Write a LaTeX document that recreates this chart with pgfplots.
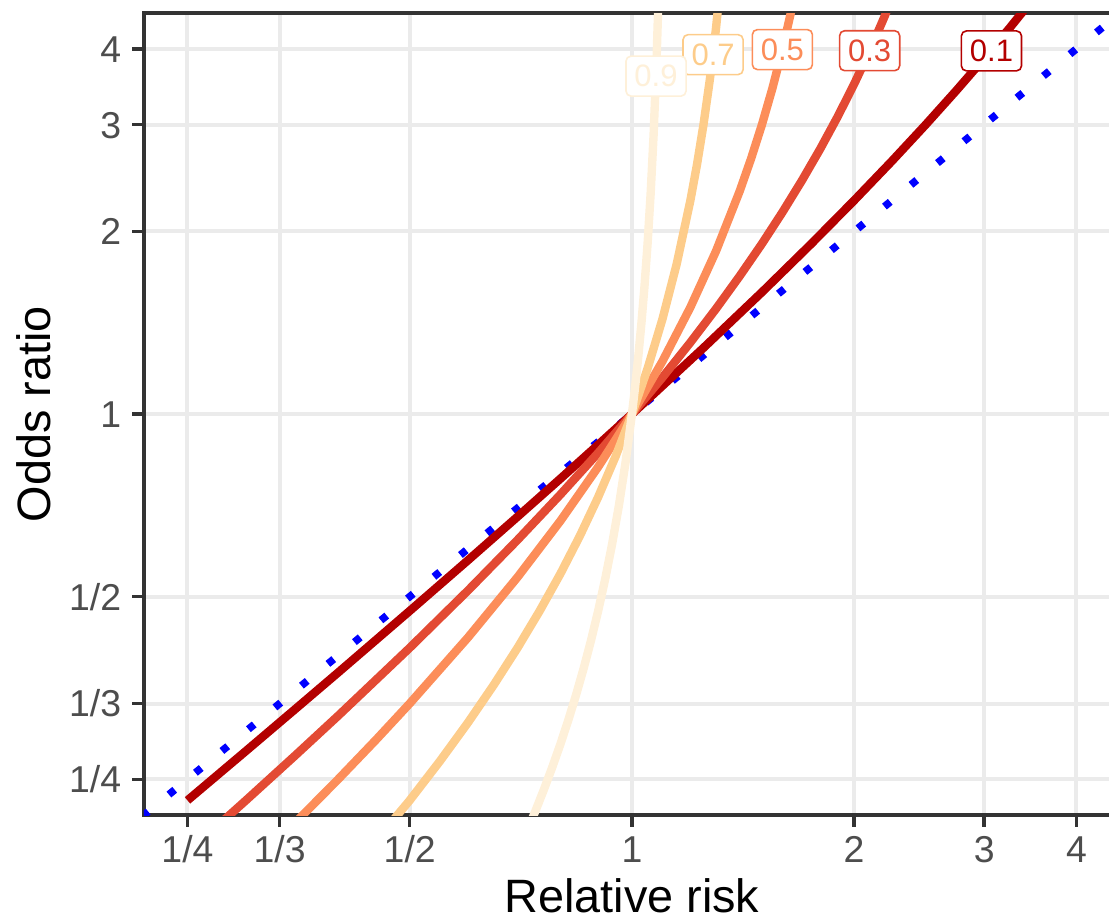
\documentclass[border=0pt]{standalone}
\usepackage{fontspec}
\setmainfont{Liberation Sans}
\usepackage{pgfplots}
\pgfplotsset{compat=1.18}
\definecolor{or1}{HTML}{B30000}
\definecolor{or3}{HTML}{E34A33}
\definecolor{or5}{HTML}{FC8D59}
\definecolor{or7}{HTML}{FDCC8A}
\definecolor{or9}{HTML}{FEF0D9}
\definecolor{gridgray}{HTML}{EBEBEB}
\definecolor{framegray}{HTML}{333333}
\definecolor{ticktext}{HTML}{4D4D4D}

\tikzset{lab/.style={draw=#1, fill=white, text=#1, rounded corners=2.5pt,
  line width=0.8pt, inner xsep=4.25pt, inner ysep=4.5pt,
  font=\fontsize{15.5}{17}\selectfont}}

\begin{document}
\begin{tikzpicture}
\begin{axis}[
  scale only axis, width=487.9pt, height=400.9pt,
  xmode=log, ymode=log, log basis x=2, log basis y=2,
  xmin=0.2183, xmax=4.58, ymin=0.2183, ymax=4.58,
  xtick={0.25,0.333333,0.5,1,2,3,4}, xticklabels={1/4,1/3,1/2,1,2,3,4},
  ytick={0.25,0.333333,0.5,1,2,3,4}, yticklabels={1/4,1/3,1/2,1,2,3,4},
  minor xtick={}, minor ytick={},
  xtick pos=left, ytick pos=left,
  tick align=outside, major tick length=6pt,
  every tick/.style={framegray, line width=1.75pt},
  grid=major, major grid style={gridgray, line width=2pt},
  axis line style={framegray, line width=1.75pt},
  tick label style={font=\fontsize{18.7}{20}\selectfont, text=ticktext},
  xticklabel style={anchor=base, inner sep=0pt, yshift=-18pt},
  yticklabel style={anchor=base east, inner sep=0pt, xshift=-5.25pt, yshift=-6.7pt},
  xlabel={Relative risk}, ylabel={Odds ratio},
  label style={font=\fontsize{23.4}{26}\selectfont, text=black},
  xlabel style={at={(axis description cs:0.5,-0.121)}, anchor=base},
  ylabel style={at={(axis description cs:-0.0963,0.5)}, anchor=base},
]
% identity line (odds ratio = relative risk)
\addplot[blue, line width=3.75pt, dash pattern=on 3.75pt off 13.4pt]
  coordinates {(0.2,0.2) (4.8,4.8)};
% baseline risk 0.1
\addplot[or1, line width=4.2pt] coordinates {
 (0.25,0.23077) (0.3,0.27835) (0.35,0.32642) (0.4,0.375) (0.5,0.47368)
 (0.6,0.57447) (0.7,0.67742) (0.8,0.78261) (0.9,0.89011) (1,1)
 (1.25,1.28571) (1.5,1.58824) (1.75,1.90909) (2,2.25) (2.25,2.6129)
 (2.5,3) (2.75,3.41379) (3,3.85714) (3.25,4.33333) (3.5,4.84615)};
% baseline risk 0.3
\addplot[or3, line width=4.2pt] coordinates {
 (0.25,0.18919) (0.3,0.23077) (0.35,0.27374) (0.4,0.31818) (0.5,0.41176)
 (0.6,0.5122) (0.7,0.62025) (0.8,0.73684) (0.9,0.86301) (1,1)
 (1.1,1.14925) (1.2,1.3125) (1.3,1.4918) (1.4,1.68966) (1.5,1.90909)
 (1.6,2.15385) (1.7,2.42857) (1.8,2.73913) (1.9,3.09302) (2,3.5)
 (2.1,3.97297) (2.2,4.52941) (2.3,5.19355)};
% baseline risk 0.5
\addplot[or5, line width=4.2pt] coordinates {
 (0.25,0.14286) (0.3,0.17647) (0.35,0.21212) (0.4,0.25) (0.45,0.29032)
 (0.5,0.33333) (0.6,0.42857) (0.7,0.53846) (0.8,0.66667) (0.9,0.81818)
 (1,1) (1.1,1.22222) (1.2,1.5) (1.3,1.85714) (1.4,2.33333)
 (1.45,2.63636) (1.5,3) (1.55,3.44444) (1.6,4) (1.65,4.71429)};
% baseline risk 0.7
\addplot[or7, line width=4.2pt] coordinates {
 (0.25,0.09091) (0.4,0.16667) (0.5,0.23077) (0.55,0.26829) (0.6,0.31034)
 (0.65,0.3578) (0.7,0.41176) (0.75,0.47368) (0.8,0.54545) (0.85,0.62963)
 (0.9,0.72973) (0.95,0.85075) (1,1) (1.05,1.18868) (1.1,1.43478)
 (1.15,1.76923) (1.2,2.25) (1.225,2.57895) (1.25,3) (1.275,3.55814)
 (1.3,4.33333) (1.32,5.21053)};
% baseline risk 0.9
\addplot[or9, line width=4.2pt] coordinates {
 (0.7,0.18919) (0.72,0.20455) (0.74,0.22156) (0.76,0.24051) (0.78,0.26174)
 (0.8,0.28571) (0.82,0.31298) (0.84,0.34426) (0.86,0.38053) (0.88,0.42308)
 (0.9,0.47368) (0.92,0.53488) (0.94,0.61039) (0.96,0.70588) (0.98,0.83051)
 (1,1) (1.01,1.10989) (1.02,1.2439) (1.03,1.41096) (1.04,1.625)
 (1.05,1.90909) (1.06,2.30435) (1.07,2.89189) (1.08,3.85714)
 (1.085,4.61702) (1.09,5.73684)};
\node[lab=or1] at (axis cs:3.069,3.970) {0.1};
\node[lab=or3] at (axis cs:2.099,3.973) {0.3};
\node[lab=or5] at (axis cs:1.599,3.990) {0.5};
\node[lab=or7] at (axis cs:1.288,3.914) {0.7};
\node[lab=or9] at (axis cs:1.078,3.607) {0.9};
\end{axis}
\pgfresetboundingbox
\useasboundingbox (-72pt,-54pt) rectangle (482.5pt,407.5pt);
\end{tikzpicture}
\end{document}
